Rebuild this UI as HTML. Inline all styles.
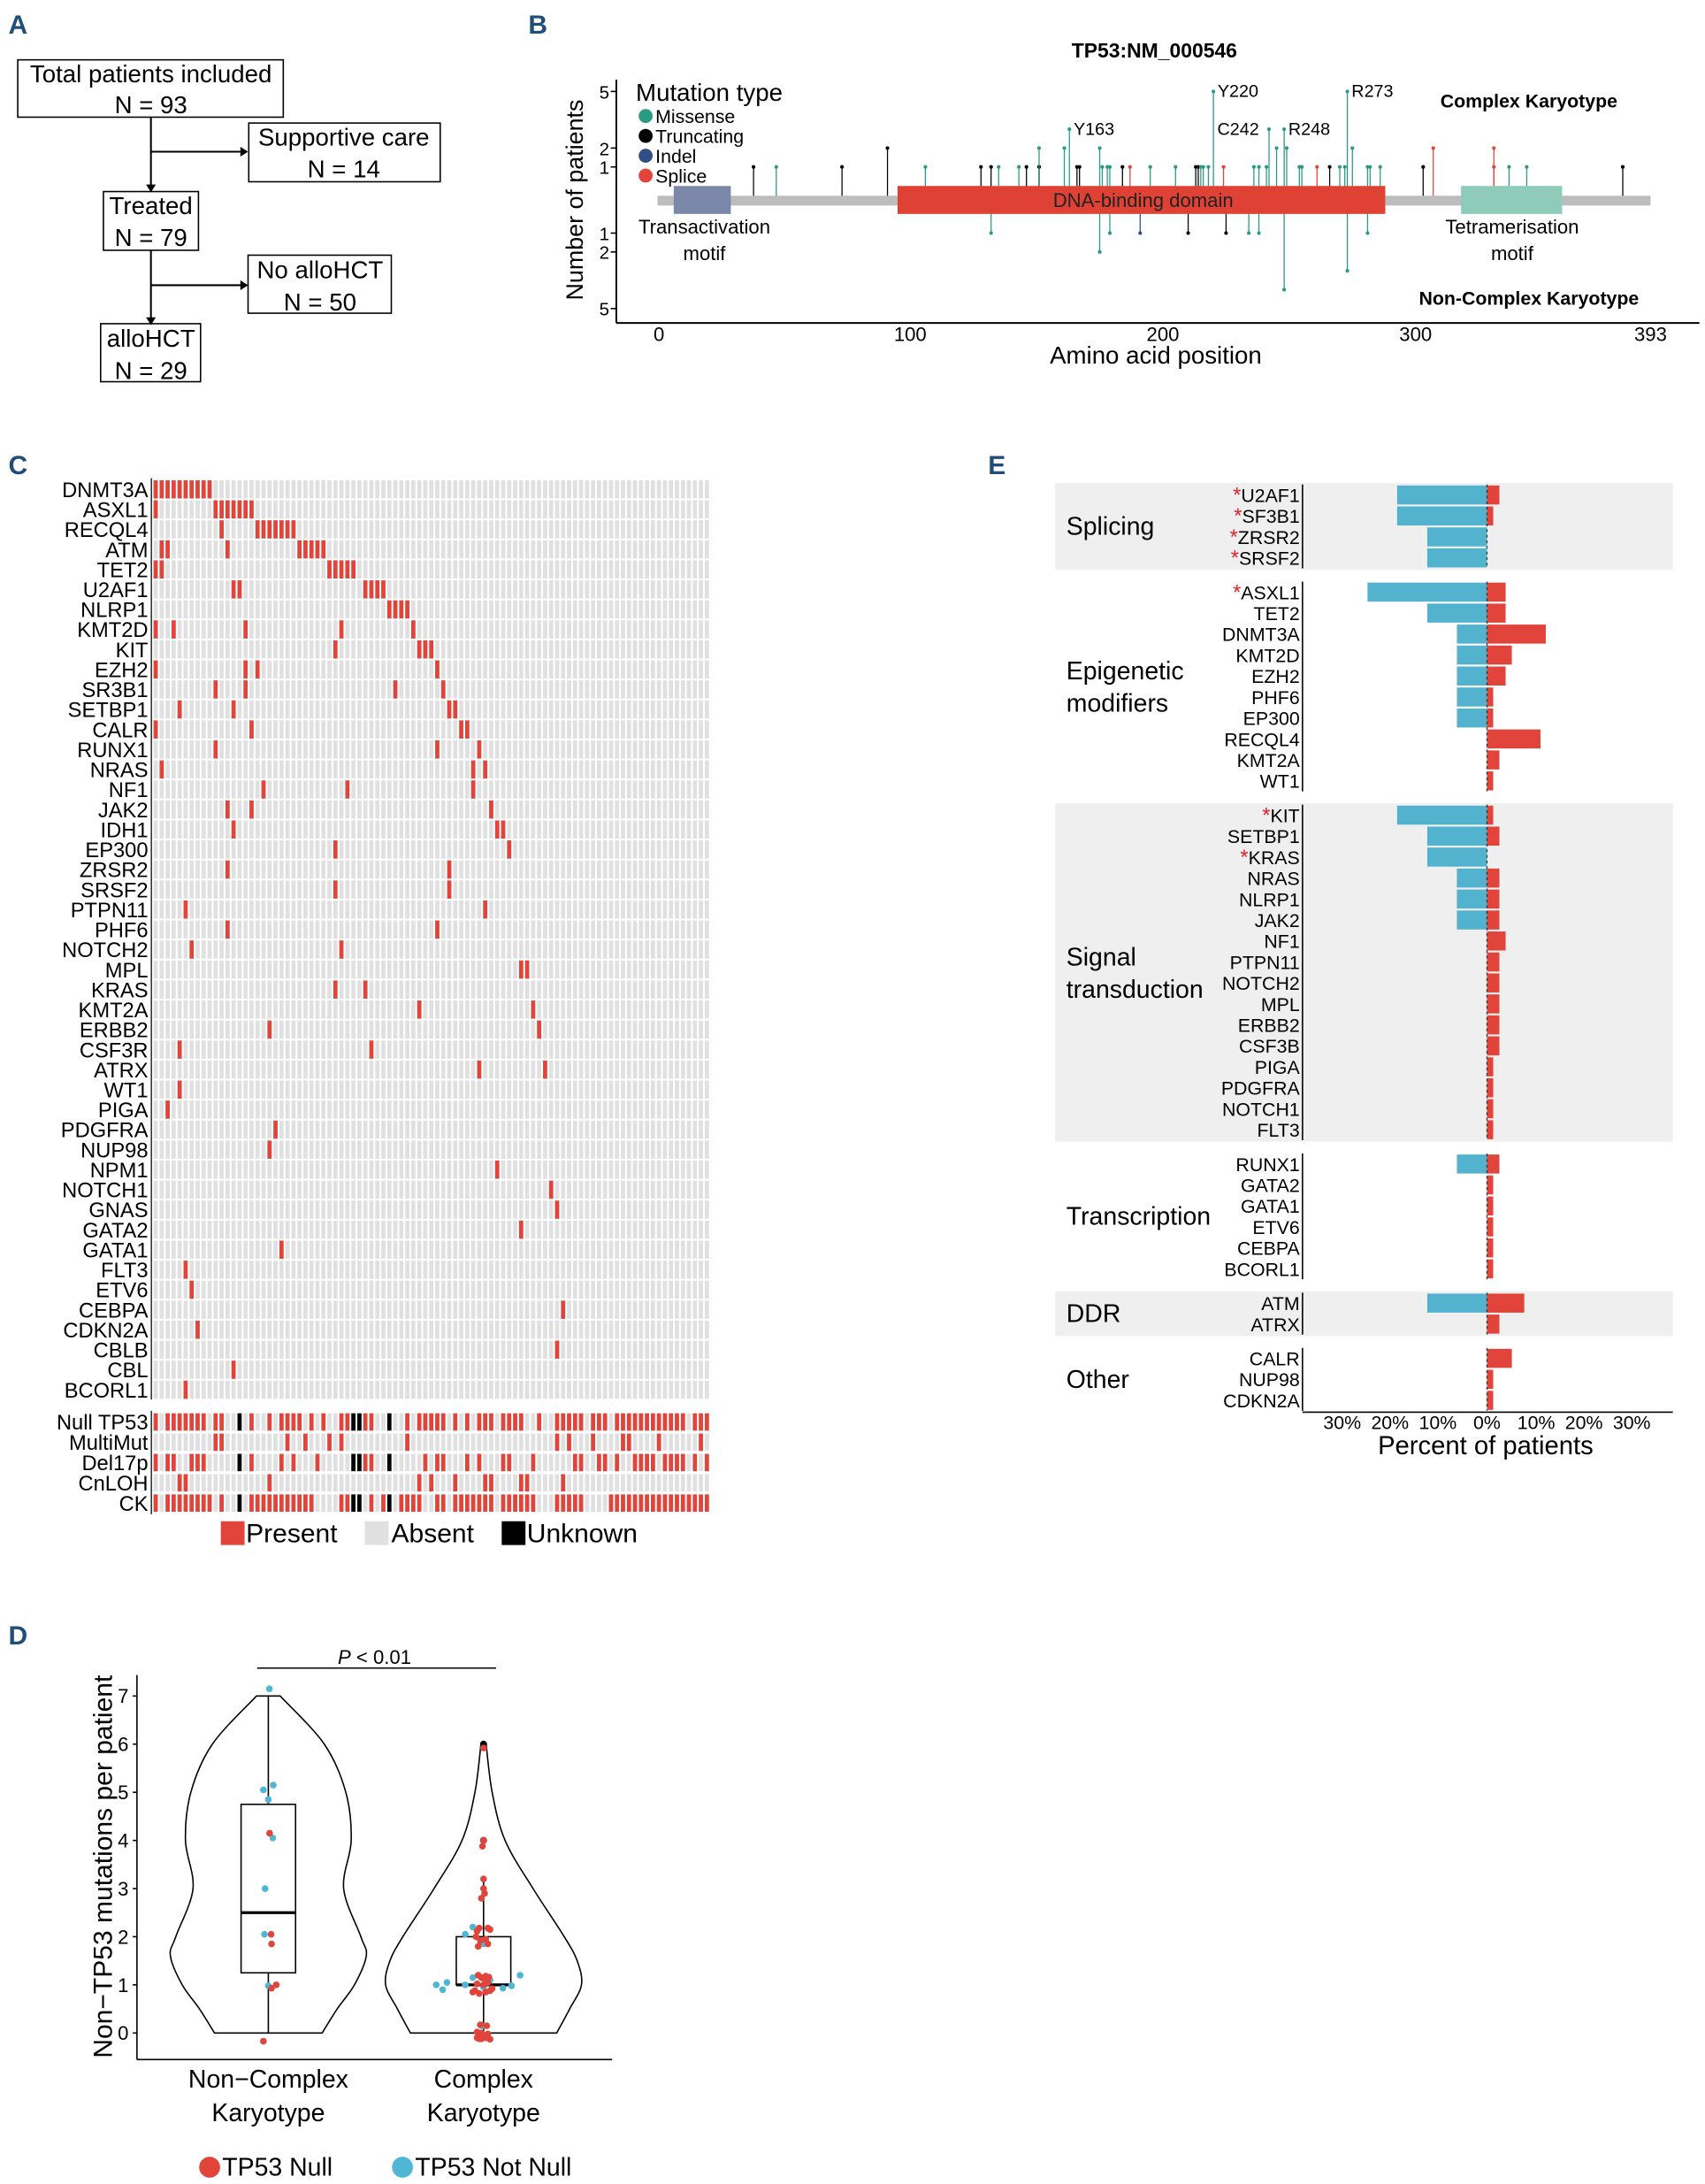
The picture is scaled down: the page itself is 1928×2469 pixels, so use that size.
<!DOCTYPE html>
<html><head><meta charset="utf-8"><style>
html,body{margin:0;padding:0;background:#fff;}
svg{display:block;font-family:"Liberation Sans",Arial,sans-serif;}
</style></head><body>
<svg id="fig" xmlns="http://www.w3.org/2000/svg" width="1928" height="2469" viewBox="0 0 1220 1562" preserveAspectRatio="none">
<g fill="#1f4e79" font-weight="bold" font-size="19">
<text x="6" y="24">A</text>
<text x="378" y="24">B</text>
<text x="6" y="339">C</text>
<text x="707" y="339">E</text>
<text x="6" y="1176">D</text>
</g>
<g fill="none" stroke="#000" stroke-width="1">
<rect x="12.7" y="42.8" width="190" height="41"/>
<rect x="178" y="88" width="137" height="42"/>
<rect x="74" y="137" width="68" height="42"/>
<rect x="177.5" y="182.5" width="102.5" height="41.5"/>
<rect x="72" y="231.5" width="71.5" height="41.5"/>
<path d="M108 84 V133 M108 108.5 H173 M108 179 V228 M108 204 H173" stroke-width="1.3"/>
</g>
<g fill="#000">
<path d="M104.5 132 L111.5 132 L108 137.5Z M104.5 227 L111.5 227 L108 232.5Z M172 105 L177.5 108.5 L172 112Z M172 200.5 L177.5 204 L172 207.5Z"/>
</g>
<g font-size="17.5" text-anchor="middle" fill="#000">
<text x="108" y="59">Total patients included</text><text x="108" y="81">N = 93</text>
<text x="246" y="104">Supportive care</text><text x="246" y="127">N = 14</text>
<text x="108" y="153">Treated</text><text x="108" y="176">N = 79</text>
<text x="229" y="199">No alloHCT</text><text x="229" y="222">N = 50</text>
<text x="108" y="248">alloHCT</text><text x="108" y="271">N = 29</text>
</g>
<g id="pB"></g>
<g id="pC"></g>
<g id="pD"></g>
<g id="pE"></g>
</svg>
<script>
var NS='http://www.w3.org/2000/svg';
function mk(tag,parent,a){var e=document.createElementNS(NS,tag);for(var k in a)e.setAttribute(k,a[k]);parent.appendChild(e);return e;}
function tx(parent,x,y,s,a){var e=mk('text',parent,a);e.setAttribute('x',x);e.setAttribute('y',y);e.textContent=s;return e;}

var bUpPos=[38,47,73,106,128,132,135,143,146,151,151,166,167,176,178,179,184,187,195,205,213,214,215,216,218,224,236,238,241,254,255,261,266,270,272,281,282,286,303,331,337,344,382,91,151,161,175,245,249,275,307,331,163,242,248,220,273];
var bUpCnt=[1,1,1,1,1,1,1,1,1,1,1,1,1,1,1,1,1,1,1,1,1,1,1,1,1,1,1,1,1,1,1,1,1,1,1,1,1,1,1,1,1,1,1,2,2,2,2,2,2,2,2,2,3,3,3,5,5];
var bUpType=['T','M','T','M','T','T','M','M','T','T','T','T','T','M','M','M','T','S','M','M','T','T','M','M','M','S','M','M','M','M','M','S','T','M','M','M','M','M','T','S','M','M','T','T','M','M','M','M','M','M','S','S','M','M','M','M','M'];
var bLoPos=[132,179,191,210,225,234,238,281,175,273,248];
var bLoCnt=[1,1,1,1,1,1,1,1,2,3,4];
var bLoType=['M','M','I','T','T','M','M','M','M','M','M'];
var bXTicks=[0,100,200,300,393];
var bYTicks=[1,2,5];
var bHot=['Y163','C242','R248','Y220','R273'];
var bHotPos=[163,242,248,220,273];
var bHotCnt=[3,3,3,5,5];
(function(){
var g=document.getElementById('pB');
var col={M:'#2a9a80',T:'#000',I:'#2f4f86',S:'#e0443a'};
function xB(a){return 470.5+a*1.808;}
function yUp(c){return 119.4-(c-1)*13.5;}
function yLo(c){return 166.7+(c-1)*13.5;}
var t=tx(g,826,41,'TP53:NM_000546',{'font-size':14.5,'font-weight':'bold','text-anchor':'middle'});

mk('line',g,{x1:441,y1:57,x2:441,y2:231,stroke:'#000','stroke-width':1.2});
mk('line',g,{x1:441,y1:231,x2:1216,y2:231,stroke:'#000','stroke-width':1.2});
bXTicks.forEach(function(v){var e=tx(g,xB(v)+(v==0?1:0),244,String(v),{'font-size':14,'text-anchor':'middle'});
});
bYTicks.forEach(function(v){tx(g,436,yUp(v)+5,String(v),{'font-size':13,'text-anchor':'end'});
tx(g,436,yLo(v)+5,String(v),{'font-size':13,'text-anchor':'end'});
mk('line',g,{x1:437,y1:yUp(v),x2:441,y2:yUp(v),stroke:'#000'});mk('line',g,{x1:437,y1:yLo(v),x2:441,y2:yLo(v),stroke:'#000'});});
var yl=tx(g,0,0,'Number of patients',{'font-size':17,'text-anchor':'middle',transform:'translate(417,143) rotate(-90)'});

var xl=tx(g,827,260,'Amino acid position',{'font-size':17.5,'text-anchor':'middle'});

for(var i=0;i<bUpPos.length;i++){var x=xB(bUpPos[i]),y=yUp(bUpCnt[i]);
mk('line',g,{x1:x,y1:141,x2:x,y2:y,stroke:col[bUpType[i]],'stroke-width':0.8});
var c=mk('circle',g,{cx:x,cy:y,r:1.3,fill:col[bUpType[i]]});

}
for(var i=0;i<bLoPos.length;i++){var x=xB(bLoPos[i]),y=yLo(bLoCnt[i]);
mk('line',g,{x1:x,y1:146,x2:x,y2:y,stroke:col[bLoType[i]],'stroke-width':0.8});
var c=mk('circle',g,{cx:x,cy:y,r:1.3,fill:col[bLoType[i]]});

}
var gb=mk('rect',g,{x:xB(0),y:140,width:xB(393)-xB(0),height:7,fill:'#bdbdbd'});

var d1=mk('rect',g,{x:xB(6.4),y:133,width:xB(29)-xB(6.4),height:20,fill:'#7b88aa'});

var d2=mk('rect',g,{x:xB(95),y:133,width:xB(288)-xB(95),height:20,fill:'#df4235'});

var d3=mk('rect',g,{x:xB(318),y:133,width:xB(358)-xB(318),height:20,fill:'#8ecbb8'});

tx(g,818,148,'DNA-binding domain',{'font-size':14,'text-anchor':'middle',fill:'#222'});
tx(g,504,167,'Transactivation',{'font-size':14,'text-anchor':'middle'});tx(g,504,186,'motif',{'font-size':14,'text-anchor':'middle'});
tx(g,1082,167,'Tetramerisation',{'font-size':14,'text-anchor':'middle'});tx(g,1082,186,'motif',{'font-size':14,'text-anchor':'middle'});
for(var i=0;i<bHot.length;i++){var lx=xB(bHotPos[i])+3;if(bHot[i]=='C242')lx=xB(bHotPos[i])-37;
tx(g,lx,yUp(bHotCnt[i])+4,bHot[i],{'font-size':12.5});}
var ck=tx(g,1094,77,'Complex Karyotype',{'font-size':13.5,'font-weight':'bold','text-anchor':'middle'});

var nck=tx(g,1094,218,'Non-Complex Karyotype',{'font-size':13.5,'font-weight':'bold','text-anchor':'middle'});

var lg=mk('g',g,{});


tx(lg,455,72,'Mutation type',{'font-size':17.5});
var lt=['Missense','Truncating','Indel','Splice'],lc=['#2a9a80','#000','#2f4f86','#e0443a'];
for(var i=0;i<4;i++){mk('circle',lg,{cx:462,cy:83+i*14.2,r:5,fill:lc[i]});tx(lg,469,88+i*14.2,lt[i],{'font-size':13.5});}
})();

var cGenes=['DNMT3A','ASXL1','RECQL4','ATM','TET2','U2AF1','NLRP1','KMT2D','KIT','EZH2','SR3B1','SETBP1','CALR','RUNX1','NRAS','NF1','JAK2','IDH1','EP300','ZRSR2','SRSF2','PTPN11','PHF6','NOTCH2','MPL','KRAS','KMT2A','ERBB2','CSF3R','ATRX','WT1','PIGA','PDGFRA','NUP98','NPM1','NOTCH1','GNAS','GATA2','GATA1','FLT3','ETV6','CEBPA','CDKN2A','CBLB','CBL','BCORL1'];
var cMut=[
[0,1,2,3,4,5,6,7,8,9],[0,10,11,12,13,14,15,16],[11,17,18,19,20,21,22,23],[1,2,12,24,25,26,27,28],[0,1,29,30,31,32,33],
[13,14,35,36,37,38],[39,40,41,42],[0,3,15,31,43],[30,44,45,46],[0,15,17,47],[10,15,40,48],[4,13,49,50],[0,16,51,52],[10,47,54],
[1,53,55],[18,32,53],[12,16,56],[13,57,58],[30,59],[12,49],[30,49],[5,55],[12,47],[6,31],
[61,62],[30,35],[44,63],[19,64],[4,36],[54,65],[4],[2],[20],[19],[57],[66],[67],[61],[21],[5],[6],[68],[7],[67],[13],[5]];
var cTracks=['Null TP53','MultiMut','Del17p','CnLOH','CK'];
var cTrackPresent=[
[0,2,3,4,5,6,7,8,10,11,16,19,21,22,23,24,26,28,31,32,35,36,42,44,45,46,47,48,50,52,54,55,56,58,59,60,61,64,67,68,69,70,71,73,74,75,77,78,79,80,81,82,83,84,85,86,87,88,90,91,92],
[10,11,22,25,29,31,42,67,69,73,78,79,84,91],
[0,2,3,6,7,8,16,21,23,27,35,36,45,47,48,52,54,58,59,63,70,71,74,75,77,80,81,82,83,85,86,87,88,90,92],
[4,5,19,44,46,50,55,56,61,62,68],
[0,2,3,4,5,6,7,8,9,11,16,17,18,19,20,21,22,23,24,25,26,31,32,36,38,41,42,43,44,47,48,50,51,52,53,54,55,56,58,59,60,61,62,63,67,68,69,70,71,76,77,78,79,80,81,82,83,84,85,86,87,88,89,90,91,92]];
var cTrackUnknown=[[14,33,34,39],[],[14,33,34,39],[],[14,33,34,39]];
var nPatients=93;
(function(){
var g=document.getElementById('pC');
var x0=109.3,cw=(508-109.3)/nPatients;
function xc(i){return x0+i*cw+0.6;}
function yr(r){return 350+r*14.31;}
function yt(r){return 1017+r*14.5;}
var bg=mk('g',g,{fill:'#e0e0e0'});
for(var r=0;r<cGenes.length;r++){for(var i=0;i<nPatients;i++){mk('rect',bg,{x:xc(i),y:yr(r)-6.5,width:3,height:13});}}
for(var r=0;r<cTracks.length;r++){for(var i=0;i<nPatients;i++){mk('rect',bg,{x:xc(i),y:yt(r)-6.2,width:3,height:12.4});}}
for(var r=0;r<cGenes.length;r++){
var l=tx(g,106,yr(r)+5.5,cGenes[r],{'font-size':15,'text-anchor':'end'});

cMut[r].forEach(function(i){var c=mk('rect',g,{x:xc(i),y:yr(r)-6.5,width:3,height:13,fill:'#e0443a'});

});}
for(var r=0;r<cTracks.length;r++){
var l=tx(g,106,yt(r)+5.5,cTracks[r],{'font-size':15,'text-anchor':'end'});

cTrackPresent[r].forEach(function(i){var c=mk('rect',g,{x:xc(i),y:yt(r)-6.2,width:3,height:12.4,fill:'#e0443a'});

});
cTrackUnknown[r].forEach(function(i){var c=mk('rect',g,{x:xc(i),y:yt(r)-6.2,width:3,height:12.4,fill:'#000'});

});}
mk('line',g,{x1:108.3,y1:342,x2:108.3,y2:1001,stroke:'#000','stroke-width':0.8});
mk('line',g,{x1:108.3,y1:1009,x2:108.3,y2:1083,stroke:'#000','stroke-width':0.8});
var lg=mk('g',g,{});


mk('rect',lg,{x:158,y:1088,width:17,height:17,fill:'#e0443a'});tx(lg,176,1103,'Present',{'font-size':19});
mk('rect',lg,{x:261,y:1088,width:17,height:17,fill:'#e0e0e0'});tx(lg,280,1103,'Absent',{'font-size':19});
mk('rect',lg,{x:359,y:1088,width:17,height:17,fill:'#000'});tx(lg,377,1103,'Unknown',{'font-size':19});
})();

var eGroups=['Splicing','Epigenetic modifiers','Signal transduction','Transcription','DDR','Other'];
var eGenes=[['U2AF1','SF3B1','ZRSR2','SRSF2'],['ASXL1','TET2','DNMT3A','KMT2D','EZH2','PHF6','EP300','RECQL4','KMT2A','WT1'],
['KIT','SETBP1','KRAS','NRAS','NLRP1','JAK2','NF1','PTPN11','NOTCH2','MPL','ERBB2','CSF3B','PIGA','PDGFRA','NOTCH1','FLT3'],
['RUNX1','GATA2','GATA1','ETV6','CEBPA','BCORL1'],['ATM','ATRX'],['CALR','NUP98','CDKN2A']];
var eStar=[[1,1,1,1],[1,0,0,0,0,0,0,0,0,0],[1,0,1,0,0,0,0,0,0,0,0,0,0,0,0,0],[0,0,0,0,0,0],[0,0],[0,0,0]];
var eNck=[[18.8,18.8,12.5,12.5],[25,12.5,6.3,6.3,6.3,6.3,6.3,0,0,0],[18.8,12.5,12.5,6.3,6.3,6.3,0,0,0,0,0,0,0,0,0,0],[6.3,0,0,0,0,0],[12.5,0],[0,0,0]];
var eCk=[[2.6,1.3,0,0],[3.9,3.9,12.3,5.2,3.9,1.3,1.3,11.2,2.6,1.3],[1.3,2.6,0,2.6,2.6,2.6,3.9,2.6,2.6,2.6,2.6,2.6,1.3,1.3,1.3,1.3],[2.6,1.3,1.3,1.3,1.3,1.3],[7.8,2.6],[5.2,1.3,1.3]];
var eTicks=[-30,-20,-10,0,10,20,30];
(function(){
var g=document.getElementById('pE');
var z=1064,k=3.42;
function xe(v){return z+v*k;}
var y=354,rowH=15,gap=9.5;
for(var gi=0;gi<eGroups.length;gi++){
var n=eGenes[gi].length,top=y-7.5,bot=y+(n-1)*rowH+7.5;
if(gi%2==0){var b=mk('rect',g,{x:755,y:top-1,width:442,height:bot-top+2,fill:'#efefef'});
}
var lines=eGroups[gi].split(' ');var mid=(top+bot)/2;
if(lines.length==1)tx(g,763,mid+6,lines[0],{'font-size':18});
else{tx(g,763,mid-5,lines[0],{'font-size':18});tx(g,763,mid+18,lines[1],{'font-size':18});}
mk('line',g,{x1:932,y1:top,x2:932,y2:bot,stroke:'#000','stroke-width':1});
for(var j=0;j<n;j++){var yy=y+j*rowH;
var l=mk('text',g,{x:930,y:yy+5,'font-size':13.5,'text-anchor':'end'});
if(eStar[gi][j]){var st=mk('tspan',l,{fill:'#e8202a','font-size':15});st.textContent='*';}
var nm=mk('tspan',l,{});nm.textContent=eGenes[gi][j];

if(eNck[gi][j]>0){var r=mk('rect',g,{x:xe(-eNck[gi][j]),y:yy-6.8,width:eNck[gi][j]*k,height:13.6,fill:'#53b3cf'});

}
if(eCk[gi][j]>0){var r=mk('rect',g,{x:z,y:yy-6.8,width:eCk[gi][j]*k,height:13.6,fill:'#e0443a'});

}}
mk('line',g,{x1:z,y1:top,x2:z,y2:bot,stroke:'#333','stroke-width':0.8,'stroke-dasharray':'2,2'});
y=bot+gap+7.5;}
mk('line',g,{x1:932,y1:1010,x2:1197,y2:1010,stroke:'#000','stroke-width':1});
eTicks.forEach(function(v){var e=tx(g,xe(v)+(v<0?-1:v>0?1:0),1022,Math.abs(v)+'%',{'font-size':13.5,'text-anchor':'middle'});
});
var t=tx(g,1063,1040,'Percent of patients',{'font-size':18.5,'text-anchor':'middle'});

})();

var dCats=['Non\u2212Complex','Complex'];
var dYTicks=[0,1,2,3,4,5,6,7];
var dLevels=[[0,0.5,1,1.6,2,3,4,5,6,7],[0,0.5,1,1.5,2,3,4,5,6]];
var dWidth=[[0.25,0.32,0.40,0.455,0.43,0.35,0.385,0.36,0.26,0.055],[0.34,0.40,0.455,0.435,0.375,0.23,0.10,0.04,0.012]];
var dBoxQ1=[1.25,1],dBoxMed=[2.5,1],dBoxQ3=[4.75,2],dWhLo=[0,0],dWhHi=[7,3.2];
var dOutY=[[],[4,6]];
var dPtCat=[0,0,0,0,0,0,0,0,0,0,0,0,0,0,
1,1,1,1,1,1,1,1,1,1,1,1,1,1,1,1,1,1,1,1,1,1,1,1,1,1,1,1,1,1,1,1,1,1,1,1,1,1,1,1,1,1,1,1,1,1,1,1,1,1,1,1,1,1,1,1,1];
var dPtVal=[7.15,5.05,5.15,4.85,4.05,3.0,2.05,0.98,4.15,2.05,1.85,1.0,0.93,-0.17,
2.2,2.05,1.85,1.2,1.15,1.1,1.0,1.05,0.9,1.0,0.95,0.93,0.98,0.15,
5.92,4.0,3.88,3.2,3.0,2.9,2.8,2.18,2.18,2.15,2.12,2.0,1.95,1.92,1.85,1.8,1.2,1.18,1.16,1.15,1.05,1.02,1.0,0.92,0.88,0.85,0.85,0.82,0.88,0.15,0.17,0.02,0.0,-0.02,-0.1,-0.12,-0.1,-0.13,-0.1,-0.12,1.12];
var dPtJit=[0.005,-0.023,0.023,0,0.021,-0.015,-0.018,0,0.006,0.013,0.015,0.037,0.015,-0.023,
-0.05,-0.085,0,0.17,-0.05,0.03,-0.22,-0.17,-0.19,-0.085,0,0.09,0.13,-0.008,
0,0,-0.005,0,0,0.005,-0.01,-0.02,0.02,0.03,-0.03,-0.035,0.01,-0.015,0.02,-0.025,-0.025,0.01,0.025,-0.01,0.02,-0.03,0,0.04,-0.04,-0.05,0.01,-0.02,0.03,0.015,-0.015,-0.03,-0.01,0.02,-0.03,-0.01,0.01,0.03,0.02,-0.02,0.005];
var dPtNull=[0,0,0,0,0,0,0,0,1,1,1,1,1,1,
0,0,0,0,0,0,0,0,0,0,0,0,0,0,
1,1,1,1,1,1,1,1,1,1,1,1,1,1,1,1,1,1,1,1,1,1,1,1,1,1,1,1,1,1,1,1,1,1,1,1,1,1,1,1,1];
(function(){
var g=document.getElementById('pD');
function yD(v){return 1454-v*34.43;}
function xD(c){return 192+c*154;}
var W=154;
mk('line',g,{x1:98,y1:1198,x2:98,y2:1473,stroke:'#000','stroke-width':1});
mk('line',g,{x1:98,y1:1473,x2:438,y2:1473,stroke:'#000','stroke-width':1});
dYTicks.forEach(function(v){mk('line',g,{x1:95,y1:yD(v),x2:98,y2:yD(v),stroke:'#000'});
var e=tx(g,92,yD(v)+5,String(v),{'font-size':14,'text-anchor':'end'});
});
var yl=tx(g,0,0,'Non\u2212TP53 mutations per patient',{'font-size':19,'text-anchor':'middle',transform:'translate(80,1335) rotate(-90)'});

function smooth(pts){var d='';for(var i=0;i<pts.length-1;i++){var p0=pts[Math.max(0,i-1)],p1=pts[i],p2=pts[i+1],p3=pts[Math.min(pts.length-1,i+2)];
var c1=[p1[0]+(p2[0]-p0[0])/6,p1[1]+(p2[1]-p0[1])/6],c2=[p2[0]-(p3[0]-p1[0])/6,p2[1]-(p3[1]-p1[1])/6];
d+=' C'+c1[0]+' '+c1[1]+' '+c2[0]+' '+c2[1]+' '+p2[0]+' '+p2[1];}return d;}
for(var c=0;c<2;c++){var L=dLevels[c],Wd=dWidth[c],cx=xD(c);
var R=[],Lf=[];for(var i=0;i<L.length;i++){R.push([cx+Wd[i]*W,yD(L[i])]);}
for(var i=L.length-1;i>=0;i--)Lf.push([cx-Wd[i]*W,yD(L[i])]);
var d='M'+(cx-Wd[0]*W)+' '+yD(0)+' L'+R[0][0]+' '+R[0][1]+smooth(R)+' L'+Lf[0][0]+' '+Lf[0][1]+smooth(Lf)+' Z';
var v=mk('path',g,{d:d,fill:'none',stroke:'#000','stroke-width':1});


mk('line',g,{x1:cx,y1:yD(dWhLo[c]),x2:cx,y2:yD(dWhHi[c]),stroke:'#000','stroke-width':1});
var b=mk('rect',g,{x:cx-19.5,y:yD(dBoxQ3[c]),width:39,height:yD(dBoxQ1[c])-yD(dBoxQ3[c]),fill:'#fff',stroke:'#000','stroke-width':1});


mk('line',g,{x1:cx-19.5,y1:yD(dBoxMed[c]),x2:cx+19.5,y2:yD(dBoxMed[c]),stroke:'#000','stroke-width':2});
dOutY[c].forEach(function(o){mk('circle',g,{cx:cx,cy:yD(o),r:2.5,fill:'#000'});});
var l1=tx(g,cx,1493,dCats[c],{'font-size':18,'text-anchor':'middle'});

tx(g,cx,1517,'Karyotype',{'font-size':18,'text-anchor':'middle'});}
for(var i=0;i<dPtVal.length;i++){var p=mk('circle',g,{cx:xD(dPtCat[i])+dPtJit[i]*W,cy:yD(dPtVal[i]),r:2.4,fill:dPtNull[i]?'#e0443a':'#4fb6d6'});

}
mk('line',g,{x1:184,y1:1193,x2:355,y2:1193,stroke:'#000','stroke-width':1});
var pv=mk('text',g,{x:268,y:1190,'font-size':14,'text-anchor':'middle'});
pv.innerHTML='<tspan font-style="italic">P</tspan> &lt; 0.01';

var lg=mk('g',g,{});


mk('circle',lg,{cx:150,cy:1550,r:7.5,fill:'#e0443a'});tx(lg,159,1556,'TP53 Null',{'font-size':18});
mk('circle',lg,{cx:288,cy:1550,r:7.5,fill:'#4fb6d6'});tx(lg,297,1556,'TP53 Not Null',{'font-size':18});
})();
</script>
</body></html>
